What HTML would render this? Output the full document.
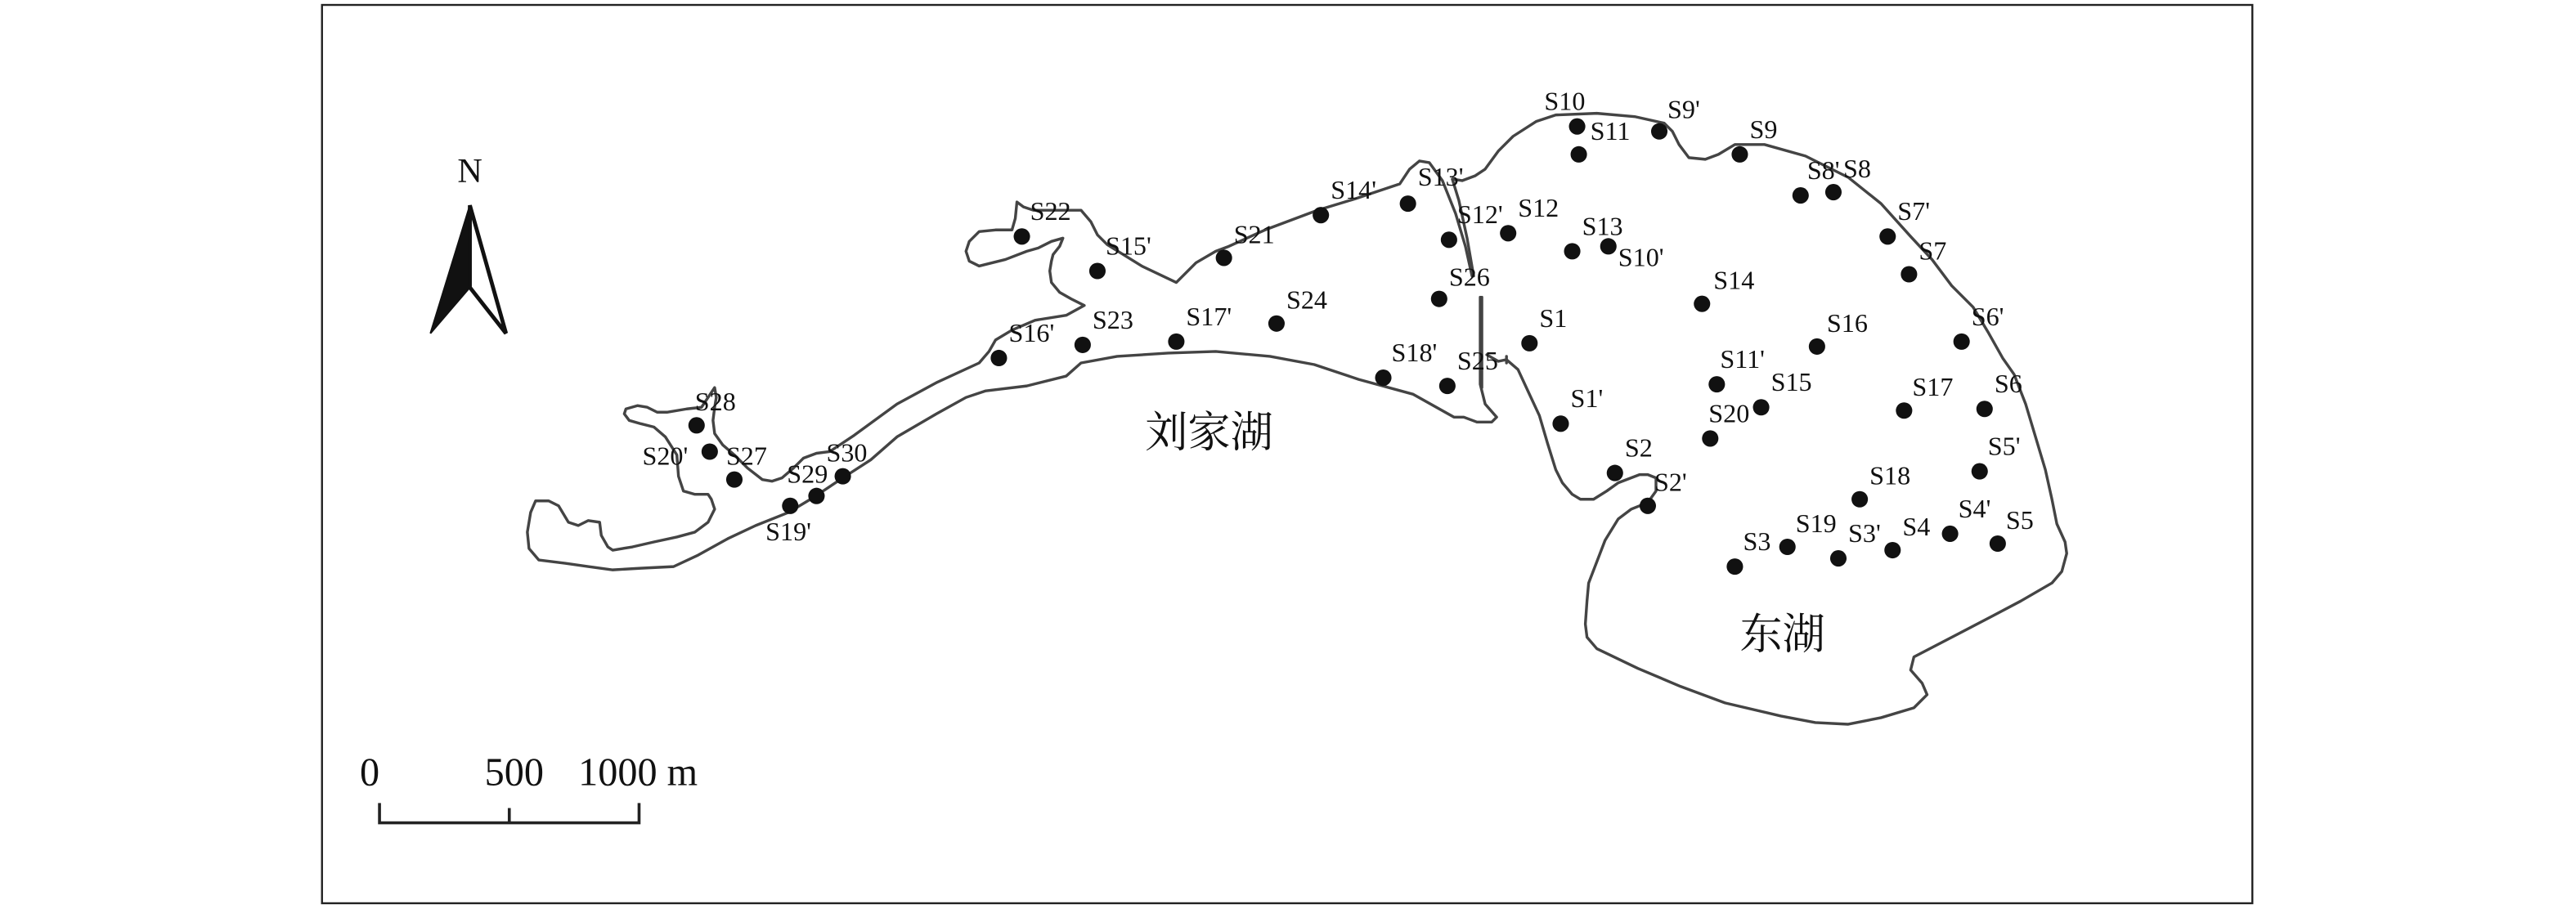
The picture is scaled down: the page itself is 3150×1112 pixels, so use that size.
<!DOCTYPE html>
<html><head><meta charset="utf-8"><style>
html,body{margin:0;padding:0;background:#fff}
svg{display:block}
text{font-family:"Liberation Serif","Noto Serif CJK SC",serif;fill:#111}
</style></head><body>
<svg width="3150" height="1112" viewBox="0 0 1568 553.5" preserveAspectRatio="none" xmlns="http://www.w3.org/2000/svg">
<rect x="0" y="0" width="1568" height="553.5" fill="#fff"/>
<rect x="196" y="3" width="1175" height="547" fill="none" stroke="#222" stroke-width="1.2"/>
<!-- compass -->
<text x="286" y="111" font-size="21" text-anchor="middle">N</text>
<polygon points="286,125 262,203 286,175" fill="#111" stroke="#111" stroke-width="1"/>
<polygon points="286,125 308,203 286,175" fill="#fff" stroke="#111" stroke-width="2.4" stroke-linejoin="miter"/>
<!-- scale bar -->
<text x="225" y="478" font-size="24" text-anchor="middle">0</text>
<text x="295" y="478" font-size="24">500</text>
<text x="352" y="478" font-size="24">1000 m</text>
<path d="M231,489 V501 H389 V489 M310,501 V492" fill="none" stroke="#222" stroke-width="1.8"/>
<!-- outlines -->
<g fill="none" stroke="#444" stroke-width="1.7" stroke-linejoin="round" stroke-linecap="round">
<path d="M901,181 L901,234 L904,246 L911,254 L908,257 L899,257 L891,254 L885,254 L860,240 L827,231 L800,222 L773,217 L740,214 L711,215 L680,217 L658,221 L649,229 L625,235 L600,238 L588,242 L570,252 L546,266 L530,280 L513,291 L495,303 L480,312 L460,320 L443,328 L425,338 L410,345 L390,346 L373,347 L358,345 L344,343 L328,341 L322,334 L321,324 L323,312 L326,305 L334,305 L340,308 L346,318 L352,320 L358,317 L365,318 L366,326 L370,333 L373,335 L385,333 L398,330 L412,327 L423,324 L431,318 L435,310 L433,304 L431,301 L423,301 L416,299 L413,290 L412,277 L405,266 L398,260 L390,258 L383,256 L380,252 L381,249 L388,247 L394,248 L400,251 L406,251 L418,249 L427,248 L431,242 L435,236 L436,242 L435,248 L434,256 L435,264 L440,271 L447,277 L455,285 L464,292 L470,293 L476,291 L483,285 L489,279 L497,276 L505,275 L520,265 L546,246 L570,233 L596,221 L602,214 L606,207 L616,201 L630,195 L649,192 L660,186 L652,182 L645,178 L640,172 L639,165 L640,159 L641,155 L645,150 L647,145 L640,147 L632,151 L625,153 L612,158 L596,162 L590,159 L588,153 L590,147 L596,141 L606,140 L616,140 L618,133 L619,123 L623,126 L629,128 L645,128 L658,128 L664,135 L668,143 L674,149 L695,162 L716,172 L728,160 L740,153 L748,150 L770,140 L802,128 L825,121 L852,112 L858,103 L864,98 L870,99 L878,110 L886,130 L892,150 L896,168"/>
<path d="M897,168 L893,145 L888,122 L884,109 L890,110 L898,107 L904,103 L912,92 L921,83 L935,74 L947,70 L972,69 L995,71 L1013,75 L1018,80 L1022,88 L1028,96 L1038,97 L1046,94 L1056,88 L1074,88 L1099,95 L1125,108 L1145,124 L1163,144 L1176,158 L1188,174 L1201,187 L1210,202 L1219,218 L1226,228 L1233,246 L1239,266 L1245,286 L1249,304 L1252,319 L1257,330 L1258,337 L1255,348 L1249,355 L1230,366 L1213,375 L1190,387 L1165,400 L1163,408 L1170,416 L1173,423 L1165,431 L1145,437 L1125,441 L1105,440 L1084,436 L1050,428 L1023,418 L997,407 L972,395 L966,388 L965,380 L966,366 L967,355 L972,342 L977,329 L985,316 L993,310 L1003,306 L1008,299 L1008,291 L1003,289 L998,289 L985,294 L978,299 L970,304 L962,304 L957,301 L951,294 L947,286 L942,270 L937,253 L930,238 L924,225 L917,219 L912,220 L905,216"/>
<path d="M902,181 L902,236"/>
<path d="M917,217 L917,221"/>
</g>
<!-- dots -->
<g fill="#111">
<circle cx="960" cy="77" r="5"/><circle cx="961" cy="94" r="5"/><circle cx="1010" cy="80" r="5"/><circle cx="1059" cy="94" r="5"/>
<circle cx="1096" cy="119" r="5"/><circle cx="1116" cy="117" r="5"/><circle cx="1149" cy="144" r="5"/><circle cx="1162" cy="167" r="5"/>
<circle cx="1194" cy="208" r="5"/><circle cx="1208" cy="249" r="5"/><circle cx="1205" cy="287" r="5"/><circle cx="1216" cy="331" r="5"/>
<circle cx="1187" cy="325" r="5"/><circle cx="1152" cy="335" r="5"/><circle cx="1119" cy="340" r="5"/><circle cx="1056" cy="345" r="5"/>
<circle cx="1088" cy="333" r="5"/><circle cx="1132" cy="304" r="5"/><circle cx="1159" cy="250" r="5"/><circle cx="1106" cy="211" r="5"/>
<circle cx="1072" cy="248" r="5"/><circle cx="1041" cy="267" r="5"/><circle cx="1045" cy="234" r="5"/><circle cx="1036" cy="185" r="5"/>
<circle cx="957" cy="153" r="5"/><circle cx="979" cy="150" r="5"/><circle cx="918" cy="142" r="5"/><circle cx="882" cy="146" r="5"/>
<circle cx="857" cy="124" r="5"/><circle cx="804" cy="131" r="5"/><circle cx="745" cy="157" r="5"/><circle cx="668" cy="165" r="5"/>
<circle cx="622" cy="144" r="5"/><circle cx="876" cy="182" r="5"/><circle cx="931" cy="209" r="5"/><circle cx="777" cy="197" r="5"/>
<circle cx="716" cy="208" r="5"/><circle cx="659" cy="210" r="5"/><circle cx="608" cy="218" r="5"/><circle cx="842" cy="230" r="5"/>
<circle cx="881" cy="235" r="5"/><circle cx="950" cy="258" r="5"/><circle cx="983" cy="288" r="5"/><circle cx="1003" cy="308" r="5"/>
<circle cx="424" cy="259" r="5"/><circle cx="432" cy="275" r="5"/><circle cx="447" cy="292" r="5"/><circle cx="497" cy="302" r="5"/>
<circle cx="513" cy="290" r="5"/><circle cx="481" cy="308" r="5"/>
</g>
<!-- labels -->
<g font-size="16">
<text x="940" y="67">S10</text><text x="968" y="85">S11</text><text x="1015" y="72">S9'</text><text x="1065" y="84">S9</text>
<text x="1100" y="109">S8'</text><text x="1122" y="108">S8</text><text x="1155" y="134">S7'</text><text x="1168" y="158">S7</text>
<text x="1200" y="198">S6'</text><text x="1214" y="239">S6</text><text x="1210" y="277">S5'</text><text x="1221" y="322">S5</text>
<text x="1192" y="315">S4'</text><text x="1158" y="326">S4</text><text x="1125" y="330">S3'</text><text x="1061" y="335">S3</text>
<text x="1093" y="324">S19</text><text x="1138" y="295">S18</text><text x="1164" y="241">S17</text><text x="1112" y="202">S16</text>
<text x="1078" y="238">S15</text><text x="1040" y="257">S20</text><text x="1047" y="224">S11'</text><text x="1043" y="176">S14</text>
<text x="963" y="143">S13</text><text x="985" y="162">S10'</text><text x="924" y="132">S12</text><text x="887" y="136">S12'</text>
<text x="863" y="113">S13'</text><text x="810" y="121">S14'</text><text x="751" y="148">S21</text><text x="673" y="155">S15'</text>
<text x="627" y="134">S22</text><text x="882" y="174">S26</text><text x="937" y="199">S1</text><text x="783" y="188">S24</text>
<text x="722" y="198">S17'</text><text x="665" y="200">S23</text><text x="614" y="208">S16'</text><text x="847" y="220">S18'</text>
<text x="887" y="225">S25</text><text x="956" y="248">S1'</text><text x="989" y="278">S2</text><text x="1007" y="299">S2'</text>
<text x="423" y="250">S28</text><text x="391" y="283">S20'</text><text x="442" y="283">S27</text><text x="479" y="294">S29</text>
<text x="503" y="281">S30</text><text x="466" y="329">S19'</text>
</g>
<text x="697" y="272" font-size="26">刘家湖</text>
<text x="1059" y="395" font-size="26">东湖</text>
</svg>
</body></html>
